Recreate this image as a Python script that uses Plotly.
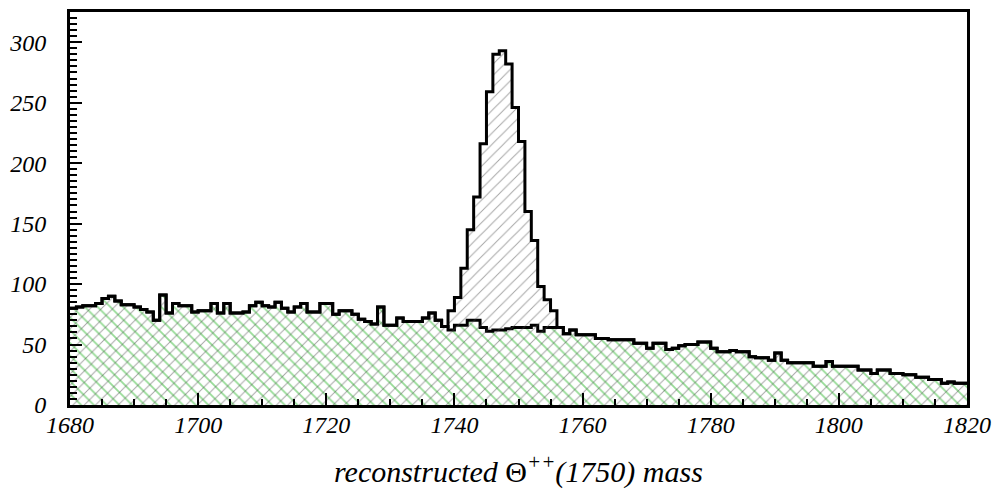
import plotly.graph_objects as go

# bin left edges: 1 MeV bins from 1680 to 1820
bin_start = 1680
bin_width = 1

background = [
    80, 81, 82, 82, 84, 88, 90, 86, 83, 83,   # 1680-1689
    81, 79, 77, 70, 91, 76, 84, 82, 82, 77,   # 1690-1699
    78, 78, 84, 76, 84, 76, 76, 77, 82, 85,   # 1700-1709
    82, 81, 85, 80, 77, 81, 84, 77, 77, 84,   # 1710-1719
    84, 75, 78, 78, 75, 71, 69, 67, 81, 66,   # 1720-1729
    66, 72, 69, 69, 69, 72, 76, 70, 65, 62,   # 1730-1739
    66, 66, 70, 70, 64, 61, 62, 62, 63, 64,   # 1740-1749
    64, 64, 66, 61, 64, 64, 64, 59, 62, 58,   # 1750-1759
    58, 58, 55, 55, 54, 54, 54, 54, 51, 51,   # 1760-1769
    47, 51, 51, 46, 47, 49, 50, 50, 52, 52,   # 1770-1779
    47, 44, 44, 45, 44, 44, 40, 39, 39, 37,   # 1780-1789
    43, 37, 35, 35, 35, 35, 32, 32, 36, 32,   # 1790-1799
    32, 32, 32, 29, 29, 26, 29, 29, 26, 26,   # 1800-1809
    25, 25, 23, 23, 21, 21, 18, 19, 18, 18,   # 1810-1819
]

total = [
    80, 81, 82, 82, 84, 88, 90, 86, 83, 83,
    81, 79, 77, 70, 91, 76, 84, 82, 82, 77,
    78, 78, 84, 76, 84, 76, 76, 77, 82, 85,
    82, 81, 85, 80, 77, 81, 84, 77, 77, 84,
    84, 75, 78, 78, 75, 71, 69, 67, 81, 66,
    66, 72, 69, 69, 69, 72, 76, 70, 65, 78,
    89, 113, 145, 172, 216, 259, 290, 293, 282, 246,
    218, 160, 136, 98, 87, 78, 64, 59, 62, 58,
    58, 58, 55, 55, 54, 54, 54, 54, 51, 51,
    47, 51, 51, 46, 47, 49, 50, 50, 52, 52,
    47, 44, 44, 45, 44, 44, 40, 39, 39, 37,
    43, 37, 35, 35, 35, 35, 32, 32, 36, 32,
    32, 32, 32, 29, 29, 26, 29, 29, 26, 26,
    25, 25, 23, 23, 21, 21, 18, 19, 18, 18,
]

x_ticks = [1680, 1700, 1720, 1740, 1760, 1780, 1800, 1820]
y_ticks = [0, 50, 100, 150, 200, 250, 300]

edges = [bin_start + i * bin_width for i in range(len(background) + 1)]
bg_y = background + [background[-1]]
tot_y = total + [total[-1]]

fig = go.Figure()

fig.add_trace(go.Scatter(
    x=edges, y=bg_y, mode="lines", line=dict(shape="hv", color="black", width=3),
    fill="tozeroy", fillcolor="rgba(0,0,0,0)",
    fillpattern=dict(shape="\\", fgcolor="#2fb82f", size=9, solidity=0.2, fillmode="overlay"),
    showlegend=False, hoverinfo="skip",
))
fig.add_trace(go.Scatter(
    x=edges, y=tot_y, mode="lines", line=dict(shape="hv", color="black", width=3),
    fill="tozeroy", fillcolor="rgba(0,0,0,0)",
    fillpattern=dict(shape="/", fgcolor="#4a4a4a", size=8, solidity=0.12, fillmode="overlay"),
    showlegend=False, hoverinfo="skip",
))

tickfont = dict(family="Liberation Serif", size=24, color="black", style="italic")

fig.update_layout(
    width=995, height=496,
    margin=dict(l=70, r=28, t=12, b=91, autoexpand=False),
    paper_bgcolor="white", plot_bgcolor="white",
    xaxis=dict(
        range=[1680, 1820], tickvals=x_ticks, ticktext=["<i>%d</i>" % v for v in x_ticks],
        ticks="inside", ticklen=12, tickwidth=2, tickcolor="black",
        minor=dict(dtick=5, tick0=1680, ticks="inside", ticklen=6, tickwidth=2, tickcolor="black"),
        showline=True, linecolor="black", linewidth=3, mirror=True, automargin=False,
        showgrid=False, zeroline=False, tickfont=tickfont, ticklabelstandoff=-4,
    ),
    yaxis=dict(
        range=[0, 325], tickvals=y_ticks, ticktext=["<i>%d</i>" % v for v in y_ticks],
        ticks="inside", ticklen=12, tickwidth=2, tickcolor="black",
        minor=dict(dtick=5, tick0=0, ticks="inside", ticklen=7, tickwidth=2, tickcolor="black"),
        showline=True, linecolor="black", linewidth=3, mirror=True, automargin=False,
        showgrid=False, zeroline=False, tickfont=tickfont, ticklabelstandoff=16,
    ),
    annotations=[dict(
        text="<i>reconstructed </i><span style=\"font-style:normal\">Θ</span><i><sup>++</sup>(1750) mass</i>",
        xref="paper", yref="paper", x=0.5, y=-0.163, xanchor="center", yanchor="middle",
        showarrow=False,
        font=dict(family="Liberation Serif", size=30, color="black"),
    )],
)

fig.write_html("out.html")
